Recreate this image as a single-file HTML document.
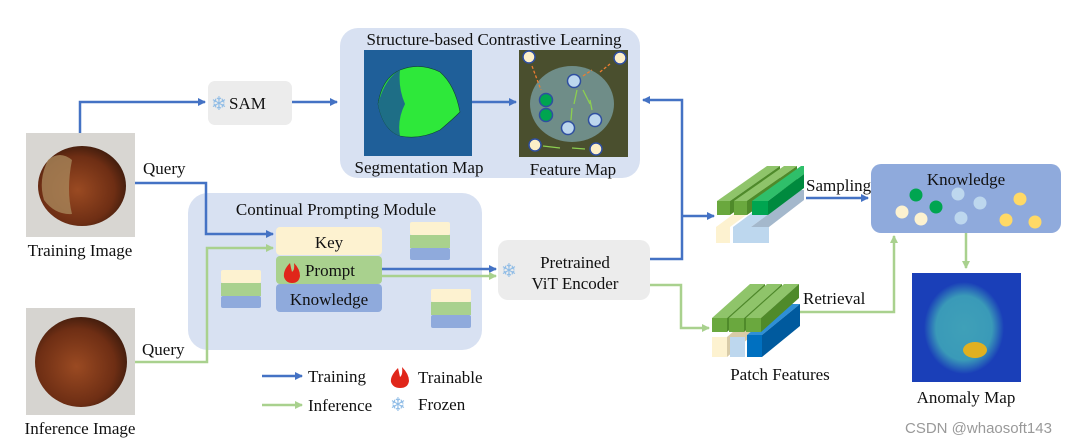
<!DOCTYPE html>
<html><head><meta charset="utf-8"><style>
body{margin:0;background:#fff;}
svg{display:block;}
text{font-family:"Liberation Serif",serif;fill:#111;}
</style></head><body>
<svg width="1080" height="445" viewBox="0 0 1080 445" xmlns="http://www.w3.org/2000/svg">
<defs>
<marker id="ab" markerWidth="8" markerHeight="8" refX="7" refY="4" orient="auto" markerUnits="userSpaceOnUse"><path d="M0,0 L8,4 L0,8 z" fill="#4472c4"/></marker>
<marker id="ag" markerWidth="8" markerHeight="8" refX="7" refY="4" orient="auto" markerUnits="userSpaceOnUse"><path d="M0,0 L8,4 L0,8 z" fill="#a9d18e"/></marker>
<radialGradient id="nut" cx="45%" cy="55%" r="60%"><stop offset="0" stop-color="#9a4a22"/><stop offset="0.7" stop-color="#6e2e14"/><stop offset="1" stop-color="#3a1a0c"/></radialGradient>
<radialGradient id="an" cx="50%" cy="50%" r="50%"><stop offset="0" stop-color="#3fa0b8"/><stop offset="0.7" stop-color="#3a9ab8"/><stop offset="1" stop-color="#1a3fb8"/></radialGradient>
</defs>

<rect x="26" y="133" width="109" height="104" fill="#d8d6d2"/>
<ellipse cx="82" cy="186" rx="44" ry="40" fill="url(#nut)"/>
<path d="M48,160 Q60,150 72,160 Q66,190 72,214 Q55,215 44,200 Q38,180 48,160z" fill="#a8865a" opacity="0.8"/>
<text x="80" y="256" font-size="17" text-anchor="middle">Training Image</text>
<rect x="26" y="308" width="109" height="107" fill="#d6d4d0"/>
<ellipse cx="81" cy="362" rx="46" ry="45" fill="url(#nut)"/>
<text x="80" y="434" font-size="17" text-anchor="middle">Inference Image</text>

<path d="M80,133 V102 H205" stroke="#4472c4" stroke-width="2.5" fill="none" marker-end="url(#ab)"/>
<rect x="208" y="81" width="84" height="44" rx="7" fill="#ececec"/>
<text x="211" y="110" font-size="19" style="fill:#8fbce6">❄</text>
<text x="229" y="109" font-size="17">SAM</text>
<path d="M292,102 H337" stroke="#4472c4" stroke-width="2.5" fill="none" marker-end="url(#ab)"/>

<rect x="340" y="28" width="300" height="150" rx="18" fill="#d8e1f2"/>
<text x="494" y="45" font-size="17" text-anchor="middle">Structure-based Contrastive Learning</text>
<rect x="364" y="50" width="108" height="106" fill="#1f5f99"/>
<path d="M400,70 Q420,62 440,72 Q455,85 460,112 Q452,120 440,130 Q420,140 400,136 Q383,130 378,104 Q382,78 400,70z" fill="#2ee83a" stroke="#143" stroke-width="0.6"/>
<path d="M400,70 Q385,78 378,104 Q383,130 400,136 Q397,120 405,104 Q398,88 400,70z" fill="#1e6e86"/>
<path d="M472,102 H516" stroke="#4472c4" stroke-width="2.5" fill="none" marker-end="url(#ab)"/>
<rect x="519" y="50" width="109" height="107" fill="#4a4f2e"/>
<ellipse cx="572" cy="104" rx="42" ry="38" fill="#6f8d88"/>
<circle cx="529" cy="57" r="6" fill="#fdefc8" stroke="#2f4fa0" stroke-width="1.5"/>
<circle cx="620" cy="58" r="6" fill="#fdefc8" stroke="#2f4fa0" stroke-width="1.5"/>
<circle cx="574" cy="81" r="6.5" fill="#bdd7ee" stroke="#2f4fa0" stroke-width="1.5"/>
<circle cx="546" cy="100" r="6.5" fill="#00a550" stroke="#2f4fa0" stroke-width="1.5"/>
<circle cx="546" cy="115" r="6.5" fill="#00a550" stroke="#2f4fa0" stroke-width="1.5"/>
<circle cx="568" cy="128" r="6.5" fill="#bdd7ee" stroke="#2f4fa0" stroke-width="1.5"/>
<circle cx="595" cy="120" r="6.5" fill="#bdd7ee" stroke="#2f4fa0" stroke-width="1.5"/>
<circle cx="535" cy="145" r="6" fill="#fdefc8" stroke="#2f4fa0" stroke-width="1.5"/>
<circle cx="596" cy="149" r="6" fill="#fdefc8" stroke="#2f4fa0" stroke-width="1.5"/>
<path d="M532,66 L541,90 M600,72 L610,64 M583,76 L592,70" stroke="#ed7d31" stroke-width="1.3" stroke-dasharray="3,2"/>
<path d="M577,90 L574,104 M583,90 L590,104 M571,120 L572,108 M592,110 L590,100 M543,146 L560,148 M585,149 L572,148" stroke="#8ccf50" stroke-width="1.3"/>
<text x="419" y="173" font-size="17" text-anchor="middle">Segmentation Map</text>
<text x="573" y="175" font-size="17" text-anchor="middle">Feature Map</text>

<rect x="188" y="193" width="294" height="157" rx="20" fill="#d8e1f2"/>
<text x="336" y="215" font-size="17" text-anchor="middle">Continual Prompting Module</text>
<rect x="276" y="227" width="106" height="28" rx="4" fill="#fdf2d0"/>
<text x="329" y="248" font-size="17" text-anchor="middle">Key</text>
<rect x="276" y="256" width="106" height="28" rx="4" fill="#a9d18e"/>
<path d="M290,263 Q283,270 284,277 Q286,283 292,283 Q299,283 300,276 Q300,269 294,263 Q295,270 292,272 Q291,268 290,263z" fill="#e0261a"/>
<text x="330" y="276" font-size="17" text-anchor="middle">Prompt</text>
<rect x="276" y="284" width="106" height="28" rx="4" fill="#8faadc"/>
<text x="329" y="305" font-size="17" text-anchor="middle">Knowledge</text>
<g>
<rect x="221" y="270" width="40" height="13" rx="2" fill="#fdf2d0"/><rect x="221" y="283" width="40" height="13" fill="#a9d18e"/><rect x="221" y="296" width="40" height="12" rx="2" fill="#8faadc"/>
<rect x="410" y="222" width="40" height="13" rx="2" fill="#fdf2d0"/><rect x="410" y="235" width="40" height="13" fill="#a9d18e"/><rect x="410" y="248" width="40" height="12" rx="2" fill="#8faadc"/>
<rect x="431" y="289" width="40" height="13" rx="2" fill="#fdf2d0"/><rect x="431" y="302" width="40" height="13" fill="#a9d18e"/><rect x="431" y="315" width="40" height="13" rx="2" fill="#8faadc"/>
</g>

<text x="143" y="174" font-size="17">Query</text>
<path d="M135,183 H206 V234 H273" stroke="#4472c4" stroke-width="2.5" fill="none" marker-end="url(#ab)"/>
<text x="142" y="355" font-size="17">Query</text>
<path d="M135,362 H207 V248 H273" stroke="#a9d18e" stroke-width="2.5" fill="none" marker-end="url(#ag)"/>

<path d="M382,269 H496" stroke="#4472c4" stroke-width="2.5" fill="none" marker-end="url(#ab)"/>
<path d="M382,276 H496" stroke="#a9d18e" stroke-width="2.5" fill="none" marker-end="url(#ag)"/>
<rect x="498" y="240" width="152" height="60" rx="10" fill="#ececec"/>
<text x="501" y="277" font-size="19" style="fill:#8fbce6">❄</text>
<text x="575" y="268" font-size="17" text-anchor="middle">Pretrained</text>
<text x="575" y="289" font-size="17" text-anchor="middle">ViT Encoder</text>

<path d="M650,259 H682 V100 H643" stroke="#4472c4" stroke-width="2.5" fill="none" marker-end="url(#ab)"/>
<path d="M682,216 H714" stroke="#4472c4" stroke-width="2.5" fill="none" marker-end="url(#ab)"/>
<path d="M650,285 H681 V328 H709" stroke="#a9d18e" stroke-width="2.5" fill="none" marker-end="url(#ag)"/>

<g>
<polygon points="716,227 730,227 780,190 766,190" fill="#fdf2d0"/><rect x="716" y="227" width="14" height="16" fill="#fdf2d0"/>
<polygon points="733,227 751,227 801,190 783,190" fill="#bdd7ee"/><rect x="733" y="227" width="18" height="16" fill="#bdd7ee"/>
<polygon points="751,227 769,227 804,200 804,190 801,190" fill="#a4b8cc"/><rect x="751" y="227" width="18" height="16" fill="#bdd7ee"/>
<polygon points="717,201 730,201 780,166 767,166" fill="#8fc46a"/><rect x="717" y="201" width="13" height="14" fill="#6aa83e"/><polygon points="730,201 730,215 780,180 780,166" fill="#4f8a2a"/>
<polygon points="734,201 747,201 797,166 784,166" fill="#8fc46a"/><rect x="734" y="201" width="13" height="14" fill="#6aa83e"/><polygon points="747,201 747,215 797,180 797,166" fill="#4f8a2a"/>
<polygon points="752,201 768,201 804,174 804,166 801,166" fill="#2fbf6a"/><rect x="752" y="201" width="16" height="14" fill="#00a550"/><polygon points="768,201 768,215 804,188 804,174" fill="#008a3e"/>
</g>
<text x="806" y="191" font-size="17">Sampling</text>
<path d="M806,198 H868" stroke="#4472c4" stroke-width="2.5" fill="none" marker-end="url(#ab)"/>

<rect x="871" y="164" width="190" height="69" rx="10" fill="#8faadc"/>
<text x="966" y="185" font-size="17" text-anchor="middle">Knowledge</text>
<circle cx="916" cy="195" r="6.5" fill="#00a550"/><circle cx="936" cy="207" r="6.5" fill="#00a550"/>
<circle cx="902" cy="212" r="6.5" fill="#fdf2d0"/><circle cx="921" cy="219" r="6.5" fill="#fdf2d0"/>
<circle cx="958" cy="194" r="6.5" fill="#bdd7ee"/><circle cx="980" cy="203" r="6.5" fill="#bdd7ee"/><circle cx="961" cy="218" r="6.5" fill="#bdd7ee"/>
<circle cx="1020" cy="199" r="6.5" fill="#ffd966"/><circle cx="1006" cy="220" r="6.5" fill="#ffd966"/><circle cx="1035" cy="222" r="6.5" fill="#ffd966"/>
<path d="M966,233 V268" stroke="#a9d18e" stroke-width="2.5" fill="none" marker-end="url(#ag)"/>

<g>
<rect x="712" y="337" width="15" height="20" fill="#fdf2d0"/><polygon points="727,337 727,357 770,320 770,300" fill="#d8cba8"/>
<rect x="730" y="337" width="15" height="20" fill="#bdd7ee"/>
<rect x="747" y="335" width="15" height="22" fill="#0070c0"/><polygon points="747,335 762,335 800,304 785,304" fill="#2e8fd6"/><polygon points="762,335 762,357 800,326 800,304" fill="#005a9e"/>
<polygon points="712,318 727,318 765,284 750,284" fill="#8fc46a"/><rect x="712" y="318" width="15" height="14" fill="#6aa83e"/><polygon points="727,318 727,332 765,298 765,284" fill="#4f8a2a"/>
<polygon points="729,318 744,318 782,284 767,284" fill="#8fc46a"/><rect x="729" y="318" width="15" height="14" fill="#6aa83e"/><polygon points="744,318 744,332 782,298 782,284" fill="#4f8a2a"/>
<polygon points="746,318 761,318 799,284 784,284" fill="#8fc46a"/><rect x="746" y="318" width="15" height="14" fill="#6aa83e"/><polygon points="761,318 761,332 799,298 799,284" fill="#4f8a2a"/>
</g>
<text x="803" y="304" font-size="17">Retrieval</text>
<path d="M800,312 H894 V236" stroke="#a9d18e" stroke-width="2.5" fill="none" marker-end="url(#ag)"/>
<text x="780" y="380" font-size="17" text-anchor="middle">Patch Features</text>

<rect x="912" y="273" width="109" height="109" fill="#1a3fb8"/>
<ellipse cx="964" cy="328" rx="40" ry="46" fill="url(#an)"/>
<ellipse cx="975" cy="350" rx="12" ry="8" fill="#e0b020"/>
<text x="966" y="403" font-size="17" text-anchor="middle">Anomaly Map</text>

<path d="M262,376 H302" stroke="#4472c4" stroke-width="2.5" fill="none" marker-end="url(#ab)"/>
<text x="308" y="382" font-size="17">Training</text>
<path d="M262,405 H302" stroke="#a9d18e" stroke-width="2.5" fill="none" marker-end="url(#ag)"/>
<text x="308" y="411" font-size="17">Inference</text>
<path d="M398,368 Q390,376 391,382 Q393,388 400,388 Q408,388 409,381 Q409,374 402,367 Q403,375 400,377 Q399,372 398,368z" fill="#e0261a"/>
<text x="418" y="383" font-size="17">Trainable</text>
<text x="390" y="411" font-size="19" style="fill:#8fbce6">❄</text>
<text x="418" y="410" font-size="17">Frozen</text>

<text x="905" y="433" font-size="15" style="font-family:'Liberation Sans',sans-serif;fill:#999">CSDN @whaosoft143</text>
</svg>
</body></html>
